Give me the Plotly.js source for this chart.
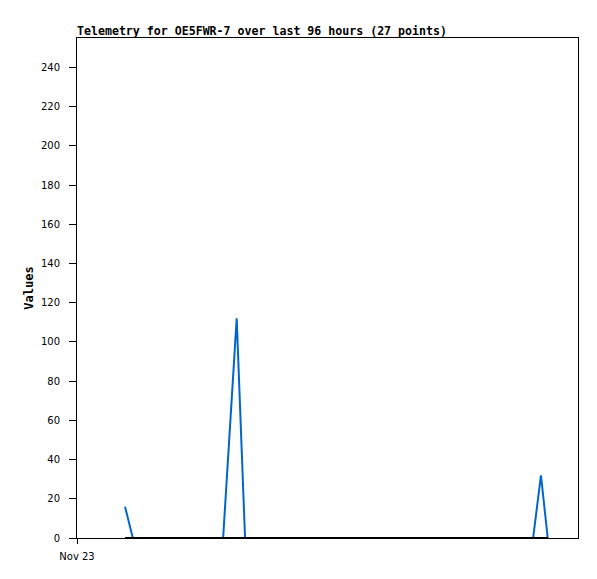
<!DOCTYPE html>
<html>
<head>
<meta charset="utf-8">
<script src="https://cdn.plot.ly/plotly-3.0.1.min.js"></script>
<style>html,body{margin:0;padding:0;background:#fff;}#chart{width:597px;height:579px;}</style>
</head>
<body>
<div id="chart"></div>
<script>
// hours since Nov 23 00:00
const hours = [9.2, 10.7, 13.2, 16.0, 18.8, 21.6, 24.6, 28.0, 30.6, 32.2, 36.0, 40.0, 44.0, 48.0, 52.0, 56.0, 60.0, 64.0, 68.0, 72.0, 75.0, 78.0, 81.0, 84.0, 87.4, 88.9, 90.2];
const values = [16, 0, 0, 0, 0, 0, 0, 0, 112, 0, 0, 0, 0, 0, 0, 0, 0, 0, 0, 0, 0, 0, 0, 0, 0, 32, 0];
const zeroSeries = [0, 0, 0, 0, 0, 0, 0, 0, 0, 0, 0, 0, 0, 0, 0, 0, 0, 0, 0, 0, 0, 0, 0, 0, 0, 0, 0];
const xTickVals = [0];
const xTickText = ["Nov 23"];
const titleText = "Telemetry for OE5FWR-7 over last 96 hours (27 points)";

const traces = [
  {x: hours, y: values, type: 'scatter', mode: 'lines', line: {color: '#0066cc', width: 2}, hoverinfo: 'none'},
  {x: hours, y: zeroSeries, type: 'scatter', mode: 'lines', line: {color: '#000000', width: 2}, hoverinfo: 'none'}
];

const layout = {
  width: 597, height: 579,
  margin: {l: 77, r: 19, t: 38, b: 41},
  paper_bgcolor: '#ffffff', plot_bgcolor: '#ffffff',
  showlegend: false,
  title: {text: '<b>' + titleText + '</b>', x: 0, xref: 'paper', xanchor: 'left', y: 1, yref: 'paper', yanchor: 'bottom', pad: {b: 3},
          font: {family: 'DejaVu Sans Mono', size: 11.6, color: '#000'}},
  xaxis: {range: [0, 96], tickvals: xTickVals, ticktext: xTickText, showgrid: false, zeroline: false,
          showline: true, linecolor: '#000', linewidth: 1, mirror: true, ticks: 'outside', ticklen: 5, tickcolor: '#000',
          ticklabelstandoff: 4,
          tickfont: {family: 'DejaVu Sans', size: 10, color: '#000'}, automargin: false, fixedrange: true},
  yaxis: {range: [0, 255], dtick: 20, tick0: 0, showgrid: false, zeroline: false,
          showline: true, linecolor: '#000', linewidth: 1, mirror: true, ticks: 'outside', ticklen: 7, tickcolor: '#000',
          ticklabelstandoff: 7,
          tickfont: {family: 'DejaVu Sans', size: 10, color: '#000'}, automargin: false, fixedrange: true,
          title: {text: '<b>Values</b>', font: {family: 'DejaVu Sans Mono', size: 12, color: '#000'}, standoff: 4}}
};

Plotly.newPlot('chart', traces, layout, {staticPlot: true, displayModeBar: false});
</script>
</body>
</html>
